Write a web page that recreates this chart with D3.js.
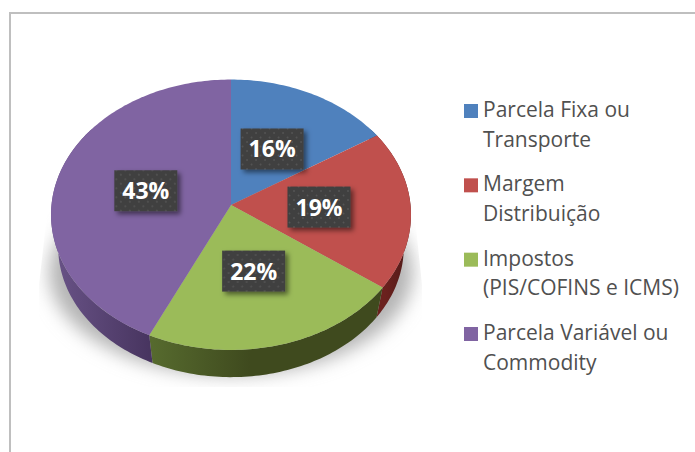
<!DOCTYPE html>
<html><head><meta charset="utf-8">
<script src="https://cdn.jsdelivr.net/npm/d3@7"></script>
<style>html,body{margin:0;padding:0;background:#fff;overflow:hidden}svg{display:block}</style>
</head><body><svg id="c" width="695" height="452"></svg>
<script>
const categories = ["Parcela Fixa ou Transporte","Margem Distribuição","Impostos (PIS/COFINS e ICMS)","Parcela Variável ou Commodity"];
const legendLines = [["Parcela Fixa ou","Transporte"],["Margem","Distribuição"],["Impostos","(PIS/COFINS e ICMS)"],["Parcela Variável ou","Commodity"]];
const values = [16,19,22,43];
const colors = ["#4f81bd","#c0504d","#9bbb59","#8064a2"];
const wallFrom = ["#2f4f75","#6b211e","#566a2e","#6a5488"];
const wallTo = ["#2f4f75","#4f1a18","#3f4a1e","#47345f"];

const svg = d3.select("#c");
const defs = svg.append("defs");
const W = 695, H = 452;

svg.append("rect").attr("width",W).attr("height",H).attr("fill","#fff");
svg.append("path").attr("d",d3.line()([[10,H+5],[10,13],[W+5,13]]))
  .attr("fill","none").attr("stroke","#bfbfbf").attr("stroke-width",2);

// perspective projection of the pie disc
const cx = 231, cy = 205, A = 179.5, B = 134.5, k = 0.072;
function proj(a, r=1, scale=1, dy=0){
  const X = r*Math.sin(a), Y = r*Math.cos(a), s = 1/(1+k*Y);
  return [cx + scale*A*X*s, cy + dy - scale*B*Y*s];
}
const depthDy = 33, depthScale = 0.96;
const pie = d3.pie().sort(null)(values);
const line = d3.line();
const arcPts = (a0,a1,opt=[1,1,0]) => {
  const n = Math.max(2,Math.ceil((a1-a0)/0.02));
  return d3.range(n+1).map(i=>proj(a0+(a1-a0)*i/n,opt[0],opt[1],opt[2]));
};

// shadow
defs.append("filter").attr("id","sb").attr("x","-20%").attr("y","-30%").attr("width","140%").attr("height","160%")
  .append("feGaussianBlur").attr("stdDeviation",9);
defs.append("clipPath").attr("id","sc").append("path")
  .attr("d",line([[52,170],[39,285],[39,387],[422,387],[422,285],[410,170]])+"Z");
svg.append("g").attr("clip-path","url(#sc)").append("ellipse")
  .attr("cx",cx).attr("cy",272).attr("rx",182).attr("ry",103)
  .attr("fill","#b4b4b4").attr("filter","url(#sb)");

// walls
const wallG = svg.append("g");
pie.forEach((d,i)=>{
  const a0 = Math.max(d.startAngle,Math.PI*0.3), a1 = Math.min(d.endAngle,Math.PI*1.7);
  if(a1<=a0) return;
  const top = arcPts(a0,a1), bot = arcPts(a0,a1,[1,depthScale,depthDy]).reverse();
  const g = defs.append("linearGradient").attr("id","w"+i).attr("gradientUnits","userSpaceOnUse")
    .attr("x1",i===2?152:(i===3?50:385)).attr("x2",i===2?250:(i===3?152:410)).attr("y1",0).attr("y2",0);
  g.append("stop").attr("offset",0).attr("stop-color",wallFrom[i]);
  g.append("stop").attr("offset",1).attr("stop-color",wallTo[i]);
  wallG.append("path").attr("d",line(top.concat(bot))+"Z").attr("fill",`url(#w${i})`);
});

// top of the pie
svg.append("g").selectAll("path").data(pie).join("path")
  .attr("d",d=>line([[cx,cy]].concat(arcPts(d.startAngle,d.endAngle)))+"Z")
  .attr("fill",(d,i)=>colors[i]);

// labels
const p = defs.append("pattern").attr("id","dots").attr("patternUnits","userSpaceOnUse").attr("width",9).attr("height",9);
p.append("rect").attr("width",9).attr("height",9).attr("fill","#3f3f3f");
p.append("circle").attr("cx",2).attr("cy",2).attr("r",1).attr("fill","#555");
p.append("circle").attr("cx",6.5).attr("cy",6.5).attr("r",1).attr("fill","#555");
const ds = defs.append("filter").attr("id","ds").attr("x","-20%").attr("y","-30%").attr("width","150%").attr("height","170%");
ds.append("feDropShadow").attr("dx",3).attr("dy",3).attr("stdDeviation",2.5).attr("flood-color","#000").attr("flood-opacity",0.5);
const lab = svg.append("g").selectAll("g").data(pie).join("g")
  .attr("transform",d=>`translate(${proj((d.startAngle+d.endAngle)/2,0.49)})`);
lab.append("rect").attr("x",-31.5).attr("y",-20.5).attr("width",63).attr("height",41)
  .attr("fill","url(#dots)").attr("filter","url(#ds)");
lab.append("text").attr("text-anchor","middle").attr("y",8.5)
  .attr("font-family","'Open Sans', sans-serif").attr("font-weight",700).attr("font-size",23)
  .attr("fill","#fff").text(d=>d.value+"%");

// legend
const rowY = d3.scalePoint().domain(categories).range([117,340]);
const leg = svg.append("g").selectAll("g").data(categories).join("g")
  .attr("transform",d=>`translate(0,${rowY(d)})`);
leg.append("rect").attr("x",464).attr("y",-13).attr("width",14).attr("height",14).attr("fill",(d,i)=>colors[i]);
leg.append("text").attr("font-family","'Open Sans', sans-serif").attr("font-size",21).attr("fill","#505050")
  .selectAll("tspan").data((d,i)=>legendLines[i]).join("tspan")
  .attr("x",483).attr("y",(d,i)=>i*29.5).text(d=>d);
</script></body></html>
